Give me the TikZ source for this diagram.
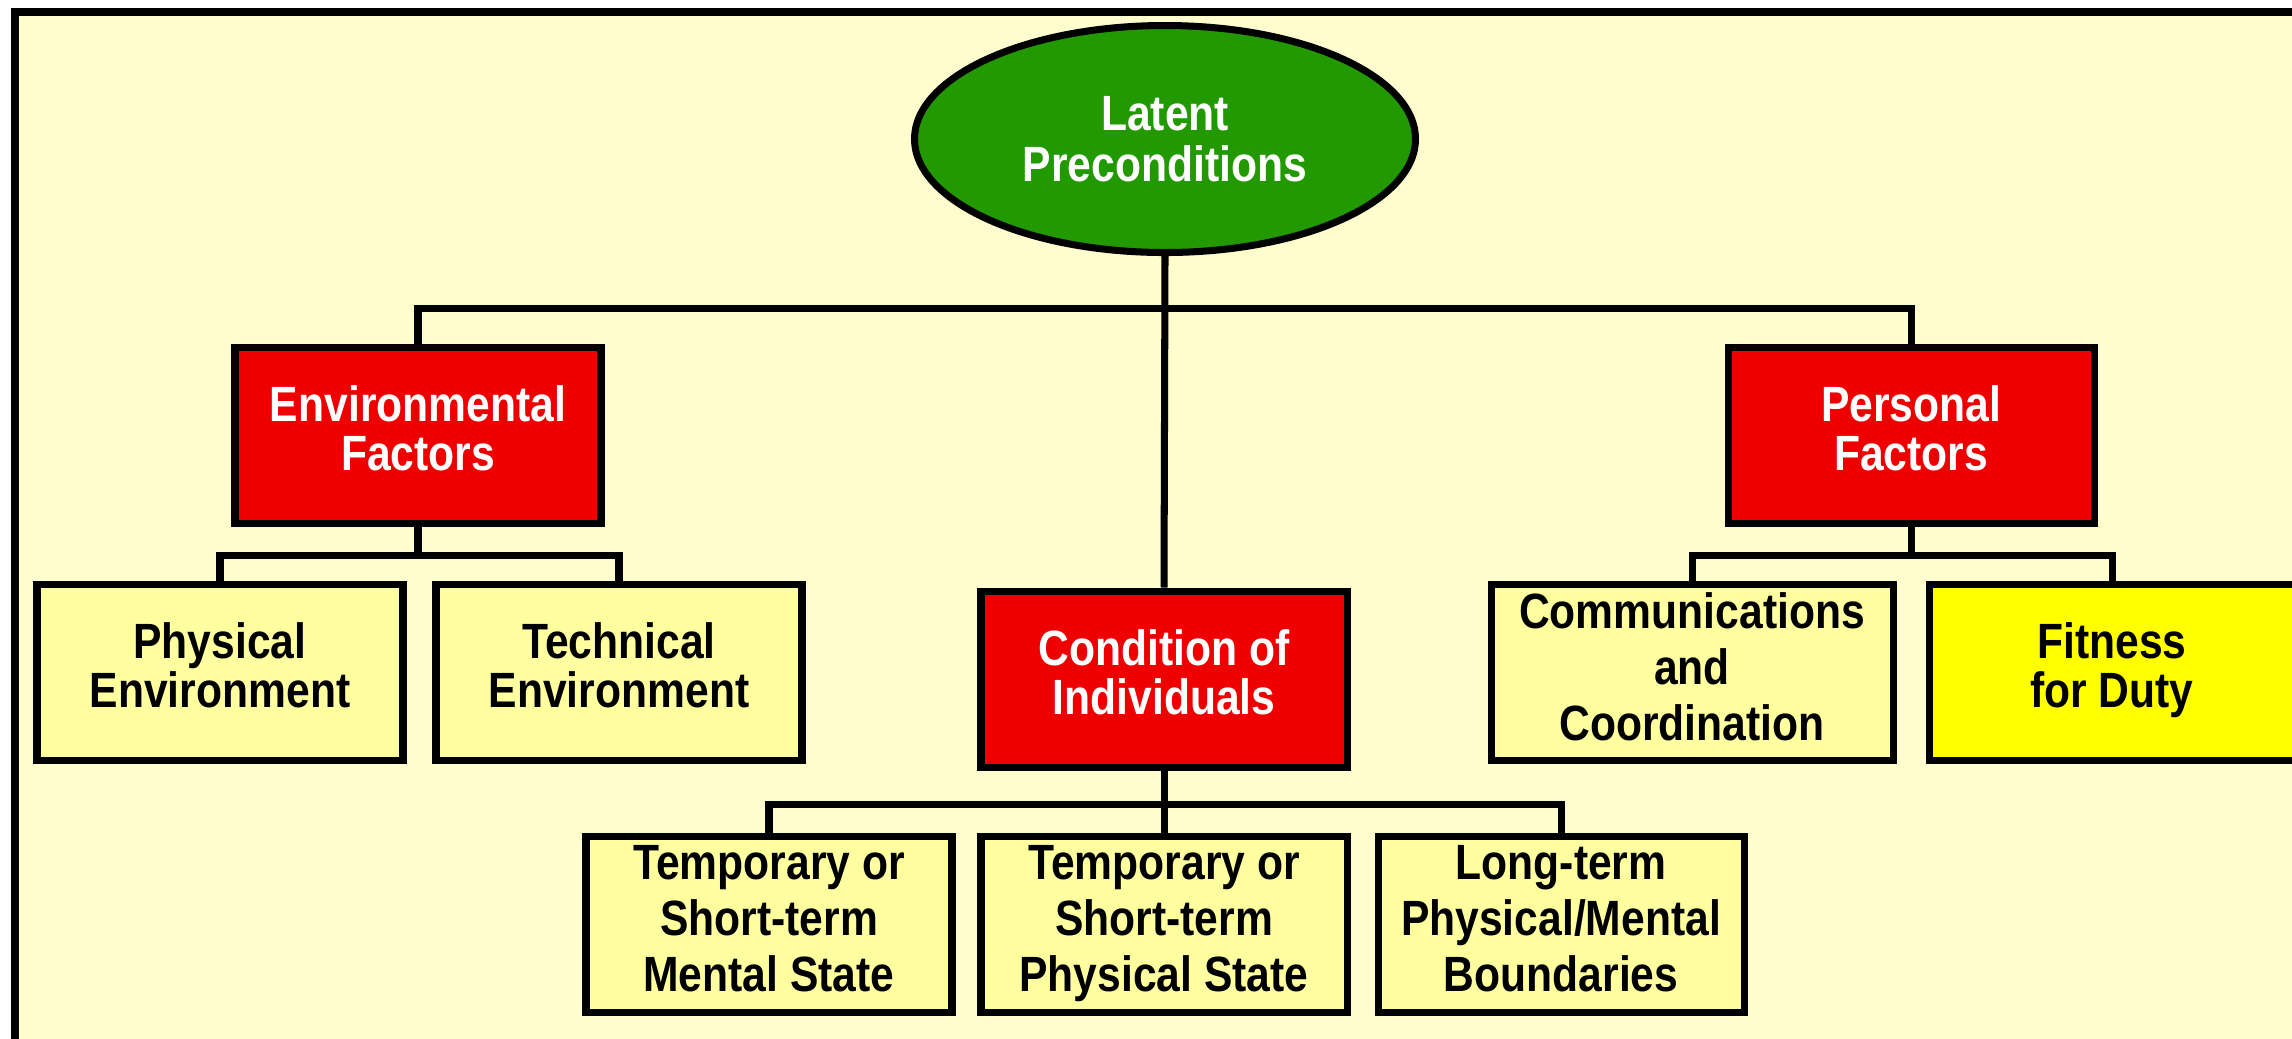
\documentclass[tikz,border=0pt]{standalone}
\usepackage{fontspec}
\setmainfont{Liberation Sans}[FakeStretch=0.86]
\usetikzlibrary{shapes.geometric}
\definecolor{bgyellow}{RGB}{255,253,206}
\definecolor{paleyellow}{RGB}{255,255,160}
\definecolor{boxred}{RGB}{238,0,0}
\definecolor{ovalgreen}{RGB}{34,153,0}
\definecolor{brightyellow}{RGB}{255,255,0}
\tikzset{
  boxbase/.style={draw=black,line width=2pt,align=center,
    minimum width=3.66cm,minimum height=1.76cm,inner sep=0pt},
  twoline/.style={font=\bfseries\fontsize{14.1}{14}\selectfont,
    execute at begin node={\rule{0pt}{11pt}},
    execute at end node={\rule[-4pt]{0pt}{0pt}}},
  threeline/.style={font=\bfseries\fontsize{14.1}{16}\selectfont,
    execute at begin node={\rule{0pt}{12.5pt}},
    execute at end node={\rule[-3.2pt]{0pt}{0pt}}},
  factor/.style={boxbase,twoline,fill=boxred,text=white},
  leaf/.style={boxbase,twoline,fill=paleyellow,text=black},
  tallleaf/.style={boxbase,threeline,fill=paleyellow,text=black},
  link/.style={line width=2pt}
}

\begin{document}
\begin{tikzpicture}
                \useasboundingbox (0,0) rectangle (22.92,-10.38);
                \fill[white] (0,0) rectangle (22.92,-10.38);
                \draw[line width=2pt,fill=bgyellow] (0.15,-0.12) rectangle (23.2,-10.6);
                \node[ellipse,draw=black,line width=2pt,fill=ovalgreen,text=white,
                    font=\bfseries\fontsize{14.1}{14.5}\selectfont,align=center,
                    minimum width=5.01cm,minimum height=2.27cm,inner sep=0pt,
                    execute at begin node={\rule{0pt}{13.5pt}}]
                    (latent) at (11.65,-1.39) {Latent\\Preconditions};
                \node[factor] (envfac) at (4.18,-4.35) {Environmental\\Factors};
                \node[factor] (persfac) at (19.11,-4.35) {Personal\\Factors};
                \node[factor] (condind) at (11.64,-6.79) {Condition of\\Individuals};
                \node[leaf] (physenv) at (2.20,-6.72) {Physical\\Environment};
                \node[leaf] (techenv) at (6.19,-6.72) {Technical\\Environment};
                \node[tallleaf,minimum width=4.02cm] (commcoord) at (16.92,-6.72) {Communications\\and\\Coordination};
                \node[leaf,fill=brightyellow] (fitness) at (21.12,-6.72) {Fitness\\for Duty};
                \node[tallleaf] (tempment) at (7.69,-9.24) {Temporary or\\Short-term\\Mental State};
                \node[tallleaf] (tempphys) at (11.64,-9.24) {Temporary or\\Short-term\\Physical State};
                \node[tallleaf] (longterm) at (15.61,-9.24) {Long-term\\Physical/Mental\\Boundaries};
                % bus lines
                \coordinate (topbus) at (11.65,-3.08);
                \coordinate (envbus) at (4.18,-5.55);
                \coordinate (persbus) at (19.11,-5.55);
                \coordinate (condbus) at (11.64,-8.04);
                \draw[link] (latent.south) -- (condind.north);
                \draw[link] (envfac.north) |- (topbus) -| (persfac.north);
                \draw[link] (envfac.south) -- (envbus);
                \draw[link] (physenv.north) |- (envbus) -| (techenv.north);
                \draw[link] (persfac.south) -- (persbus);
                \draw[link] (commcoord.north) |- (persbus) -| (fitness.north);
                \draw[link] (condind.south) -- (tempphys.north);
                \draw[link] (tempment.north) |- (condbus) -| (longterm.north);
            \end{tikzpicture}
\end{document}
